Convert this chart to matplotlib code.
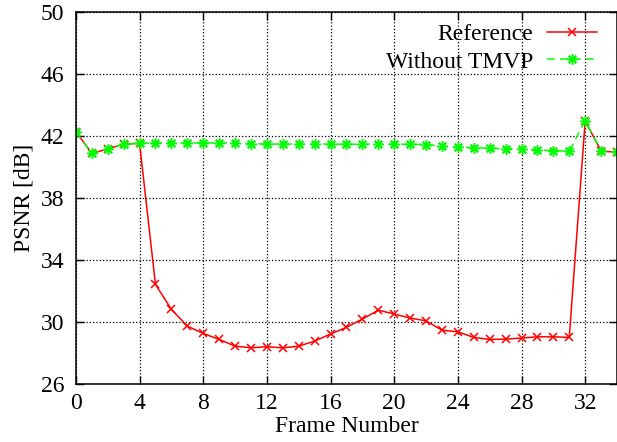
import numpy as np
import matplotlib
matplotlib.use("Agg")
import matplotlib.pyplot as plt

# frame numbers and PSNR values
frames = np.arange(0, 35)
psnr_ref = [42.28, 40.88, 41.16, 41.48, 41.53, 32.43, 30.82, 29.74, 29.27, 28.88,
            28.45, 28.34, 28.41, 28.34, 28.45, 28.77, 29.23, 29.66, 30.19, 30.77,
            30.52, 30.26, 30.08, 29.48, 29.37, 29.01, 28.88, 28.90, 28.97, 29.05,
            29.05, 29.01, 42.97, 41.03, 40.95]
psnr_notmvp = [42.28, 40.88, 41.16, 41.48, 41.53, 41.55, 41.55, 41.55, 41.55, 41.55,
               41.55, 41.50, 41.48, 41.48, 41.48, 41.48, 41.48, 41.47, 41.47, 41.48,
               41.47, 41.47, 41.45, 41.35, 41.27, 41.25, 41.21, 41.18, 41.15, 41.10,
               41.05, 41.03, 42.97, 41.03, 40.95]

xticks = [0, 4, 8, 12, 16, 20, 24, 28, 32]
yticks = [26, 30, 34, 38, 42, 46, 50]

plt.rcParams['font.family'] = ['Liberation Serif', 'DejaVu Serif']
plt.rcParams['font.size'] = 17

fig = plt.figure(figsize=(6.17, 4.42), dpi=100)
ax = fig.add_axes([0.123, 0.131, 0.877, 0.842])

ax.plot(frames, psnr_ref, color='#ff0000', lw=1.1, marker='x', ms=6, mew=1.1,
        label='Reference')
ax.plot(frames, psnr_notmvp, color='#00ff00', lw=1.1, ls=(0, (5, 3.5)),
        marker=(8, 2, 0), ms=7.5, mew=1.1, label='Without TMVP')

ax.set_xlim(0, 34)
ax.set_ylim(26, 50)
ax.set_xticks(xticks)
ax.set_yticks(yticks)
ax.grid(True, color='black', ls=':', lw=0.9)
ax.tick_params(direction='in', length=6, width=1, top=True, right=True,
               colors='black')
ax.tick_params(axis='x', pad=6.5)
ax.tick_params(axis='y', pad=8.5)
for s in ax.spines.values():
    s.set_linewidth(1.1)

ax.set_xlabel('Frame Number', labelpad=1)
ax.set_ylabel('PSNR [dB]', labelpad=4)

leg = ax.legend(loc='upper right', markerfirst=False, frameon=False,
                handlelength=2.1, handletextpad=0.6, labelspacing=0.25,
                borderaxespad=0.1, bbox_to_anchor=(0.985, 1.0))

fig.savefig('out.png', dpi=100)
